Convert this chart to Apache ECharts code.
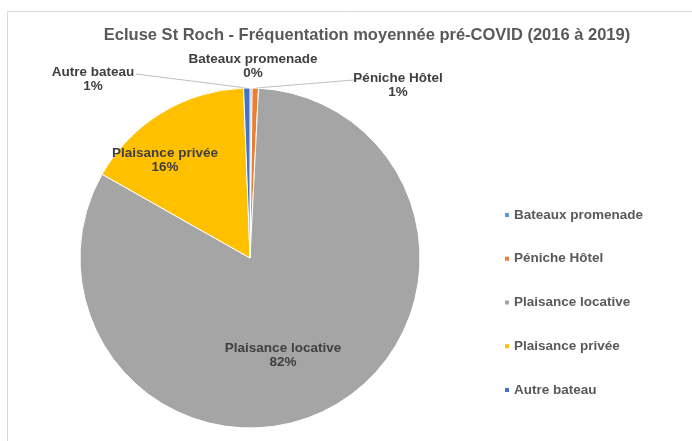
<!DOCTYPE html>
<html>
<head>
<meta charset="utf-8">
<script src="https://cdn.jsdelivr.net/npm/echarts@6/dist/echarts.min.js"></script>
<style>
  html, body { margin: 0; padding: 0; background: #fff; }
  #chart { width: 692px; height: 441px; }
</style>
</head>
<body>
<div id="chart"></div>
<script>
// données (parts en %)
const categories = ['Bateaux promenade', 'Péniche Hôtel', 'Plaisance locative', 'Plaisance privée', 'Autre bateau'];
const values = [0.2, 0.6, 82.4, 16.2, 0.6];
const colors = ['#5B9BD5', '#ED7D31', '#A5A5A5', '#FFC000', '#4472C4'];

// position des étiquettes (centre du texte), comme dans Excel
const labelSpots = [[253, 66], [398, 85], [283, 355], [165, 160], [93, 79]];
const labelLineEnds = [null, [366, 79], null, null, [136, 74]];
const insideLabels = ['Plaisance locative', 'Plaisance privée'];

const chart = echarts.init(document.getElementById('chart'));

const pieData = categories.map((name, i) => {
  const item = { name: name, value: values[i], itemStyle: { color: colors[i] } };
  if (insideLabels.includes(name)) {
    item.label = { position: 'inside' };
    item.labelLine = { show: false };
  }
  if (name === 'Bateaux promenade') item.labelLine = { show: false };
  return item;
});

const option = {
  animation: false,
  backgroundColor: '#fff',
  textStyle: { fontFamily: 'Liberation Sans, Arial, sans-serif' },
  graphic: [{
    type: 'rect',
    shape: { x: 7.5, y: 11.5, width: 720, height: 460 },
    style: { fill: 'none', stroke: '#D9D9D9', lineWidth: 1 },
    silent: true
  }],
  title: {
    text: 'Ecluse St Roch - Fréquentation moyennée pré-COVID (2016 à 2019)',
    left: 362,
    textAlign: 'center',
    top: 22,
    textStyle: { fontSize: 16.5, fontWeight: 'bold', color: '#595959' }
  },
  legend: {
    orient: 'vertical',
    left: 498,
    top: 203,
    itemGap: 29.75,
    itemWidth: 6,
    itemHeight: 6,
    icon: 'rect',
    data: categories,
    textStyle: { fontSize: 13.5, fontWeight: 'bold', color: '#595959', padding: [0, 0, 0, -1] }
  },
  series: [{
    type: 'pie',
    radius: 170,
    center: [250, 258],
    startAngle: 90,
    clockwise: true,
    avoidLabelOverlap: false,
    itemStyle: { borderColor: '#fff', borderWidth: 1 },
    label: {
      show: true,
      position: 'outside',
      formatter: p => p.name + '\n' + Math.round(p.percent) + '%',
      fontSize: 13.5,
      fontWeight: 'bold',
      color: '#404040',
      lineHeight: 14
    },
    labelLine: {
      show: true,
      length: 10,
      length2: 10,
      lineStyle: { color: '#BFBFBF', width: 1 }
    },
    labelLayout: function (params) {
      const i = params.dataIndex;
      const spot = labelSpots[i];
      const out = { x: spot[0], y: spot[1], align: 'center', verticalAlign: 'middle' };
      if (labelLineEnds[i] && params.labelLinePoints) {
        const s = params.labelLinePoints[0];
        out.labelLinePoints = [s, s, labelLineEnds[i]];
      }
      return out;
    },
    data: pieData
  }]
};

chart.setOption(option);
</script>
</body>
</html>
